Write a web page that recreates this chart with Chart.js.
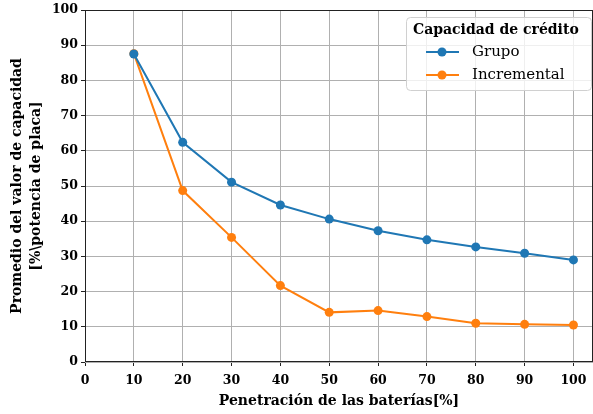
<!DOCTYPE html>
<html lang="es">
<head>
<meta charset="UTF-8">
<title>Capacidad de crédito</title>
<style>
  html, body { margin: 0; padding: 0; background: #fff; }
  #wrap { position: relative; width: 593px; height: 414px; }
</style>
</head>
<body>
<div id="wrap"><canvas id="myChart" width="593" height="414"></canvas></div>
<script src="https://cdn.jsdelivr.net/npm/chart.js"></script>
<script>
// data
var penetracion = [10, 20, 30, 40, 50, 60, 70, 80, 90, 100];
var grupo       = [87.5, 62.4, 51.1, 44.6, 40.6, 37.3, 34.7, 32.7, 30.9, 29.0];
var incremental = [87.6, 48.7, 35.4, 21.7, 14.1, 14.6, 12.9, 11.0, 10.7, 10.5];
var seriesNames = ['Grupo', 'Incremental'];
var legendTitle = 'Capacidad de crédito';
var xTitle = 'Penetración de las baterías[%]';
var yTitle = ['Promedio del valor de capacidad', '[%\\potencia de placa]'];

var azul = '#1f77b4', naranja = '#ff7f0e';
var serif = "'DejaVu Serif', serif";

function pts(ys) {
  return penetracion.map(function (x, i) { return { x: x, y: ys[i] }; });
}

// box round the plot + matplotlib style legend
var boxLegend = {
  id: 'boxLegend',
  afterDraw: function (chart) {
    var ctx = chart.ctx, a = chart.chartArea;
    ctx.save();
    ctx.strokeStyle = '#222';
    ctx.lineWidth = 1;
    ctx.strokeRect(a.left + 0.5, a.top + 0.5, a.right - a.left - 1, a.bottom - a.top - 1);

    var x0 = 406, y0 = 17, w = 185, h = 73;
    ctx.beginPath();
    ctx.roundRect(x0 + 0.5, y0 + 0.5, w, h, 4);
    ctx.fillStyle = 'rgba(255,255,255,0.8)';
    ctx.fill();
    ctx.strokeStyle = '#d0d0d0';
    ctx.stroke();

    ctx.fillStyle = '#000';
    ctx.textBaseline = 'middle';
    ctx.textAlign = 'left';
    ctx.font = 'bold 14px ' + serif;
    ctx.fillText(legendTitle, x0 + 7, y0 + 13);

    var cols = [azul, naranja];
    ctx.font = '15px ' + serif;
    seriesNames.forEach(function (name, i) {
      var y = y0 + 35 + i * 23;
      ctx.strokeStyle = cols[i];
      ctx.lineWidth = 2;
      ctx.beginPath();
      ctx.moveTo(x0 + 20, y);
      ctx.lineTo(x0 + 53, y);
      ctx.stroke();
      ctx.fillStyle = cols[i];
      ctx.beginPath();
      ctx.arc(x0 + 36, y, 4.5, 0, Math.PI * 2);
      ctx.fill();
      ctx.fillStyle = '#000';
      ctx.fillText(name, x0 + 66, y);
    });
    ctx.restore();
  }
};

var ctx = document.getElementById('myChart').getContext('2d');
var myChart = new Chart(ctx, {
  type: 'line',
  data: {
    datasets: [
      { label: seriesNames[0], data: pts(grupo), borderColor: azul, backgroundColor: azul,
        borderWidth: 2, pointRadius: 4.5, pointHoverRadius: 4.5, pointBorderWidth: 0 },
      { label: seriesNames[1], data: pts(incremental), borderColor: naranja, backgroundColor: naranja,
        borderWidth: 2, pointRadius: 4.5, pointHoverRadius: 4.5, pointBorderWidth: 0 }
    ]
  },
  options: {
    responsive: false,
    animation: false,
    events: [],
    layout: { autoPadding: false, padding: { top: 10, right: 0, left: 0, bottom: 0 } },
    plugins: { legend: { display: false }, tooltip: { enabled: false } },
    scales: {
      x: {
        type: 'linear', min: 0, max: 104,
        afterFit: function (s) { s.height = 52; s.paddingLeft = 0; s.paddingRight = 0; },
        afterBuildTicks: function (s) { s.ticks = s.ticks.filter(function (t) { return t.value <= 100; }); },
        ticks: { stepSize: 10, includeBounds: false, color: '#000', padding: 7, maxRotation: 0,
                 font: { family: serif, size: 12.5, weight: 'bold' } },
        grid: { color: '#b0b0b0', lineWidth: 1, tickLength: 4, tickColor: '#222' },
        border: { display: false },
        title: { display: true, text: xTitle, color: '#000', padding: { top: 0, bottom: 4 },
                 font: { family: serif, size: 14, weight: 'bold' } }
      },
      y: {
        min: 0, max: 100,
        afterFit: function (s) { s.width = 85; s.paddingTop = 0; s.paddingBottom = 0; },
        ticks: { stepSize: 10, color: '#000', padding: 3,
                 font: { family: serif, size: 12.5, weight: 'bold' } },
        grid: { color: '#b0b0b0', lineWidth: 1, tickLength: 4, tickColor: '#222' },
        border: { display: false },
        title: { display: true, text: yTitle, color: '#000', padding: { top: 8, bottom: 0 },
                 font: { family: serif, size: 14, weight: 'bold', lineHeight: 1.35 } }
      }
    }
  },
  plugins: [boxLegend]
});
</script>
</body>
</html>
